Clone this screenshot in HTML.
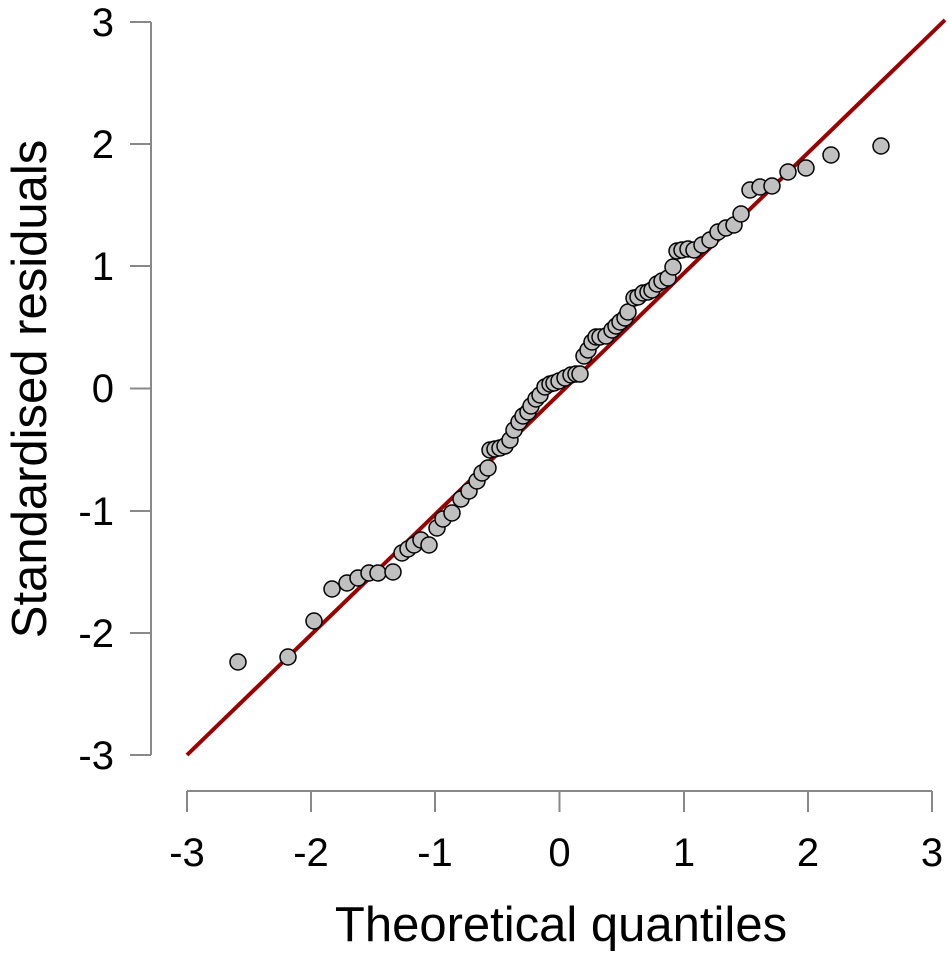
<!DOCTYPE html>
<html><head><style>body{margin:0;background:#fff}svg{display:block}</style></head><body>
<svg width="949" height="955" xmlns="http://www.w3.org/2000/svg" font-family="Liberation Sans, sans-serif">
<g stroke="#888" stroke-width="2" fill="none">
<path d="M151 22V755M130 22H151M130 144H151M130 266H151M130 388.5H151M130 511H151M130 633H151M130 755H151"/>
<path d="M187 791H932M187 791V812M311 791V812M435 791V812M559.5 791V812M684 791V812M808 791V812M932 791V812"/>
</g>
<g font-size="40" fill="#000" text-anchor="end">
<text x="114" y="36">3</text><text x="114" y="158">2</text><text x="114" y="280">1</text><text x="114" y="402">0</text><text x="114" y="525">-1</text><text x="114" y="647">-2</text><text x="114" y="769">-3</text>
</g>
<g font-size="40" fill="#000" text-anchor="middle">
<text x="187" y="866">-3</text><text x="311" y="866">-2</text><text x="435" y="866">-1</text><text x="559.5" y="866">0</text><text x="684" y="866">1</text><text x="808" y="866">2</text><text x="932" y="866">3</text>
<text x="561" y="941" font-size="49">Theoretical quantiles</text>
<text transform="translate(46,389) rotate(-90)" font-size="49">Standardised residuals</text>
</g>
<line x1="187" y1="755" x2="945" y2="20" stroke="#9b0000" stroke-width="4"/>
<g fill="#c0c0c0" stroke="#000" stroke-width="1.5">
<circle cx="238" cy="662" r="8"/><circle cx="288" cy="657" r="8"/><circle cx="314" cy="621" r="8"/><circle cx="332" cy="589" r="8"/><circle cx="347" cy="583" r="8"/><circle cx="358" cy="578" r="8"/><circle cx="369" cy="573" r="8"/><circle cx="378" cy="573" r="8"/><circle cx="393" cy="572" r="8"/><circle cx="402" cy="553" r="8"/><circle cx="408" cy="549" r="8"/><circle cx="414" cy="545" r="8"/><circle cx="421" cy="540" r="8"/><circle cx="429" cy="545" r="8"/><circle cx="437" cy="528" r="8"/><circle cx="443" cy="519" r="8"/><circle cx="452" cy="513" r="8"/><circle cx="461" cy="499" r="8"/><circle cx="469" cy="491" r="8"/><circle cx="477" cy="481" r="8"/><circle cx="482" cy="473" r="8"/><circle cx="488" cy="468" r="8"/><circle cx="490" cy="450" r="8"/><circle cx="495" cy="449" r="8"/><circle cx="500" cy="448" r="8"/><circle cx="505" cy="446" r="8"/><circle cx="510" cy="440" r="8"/><circle cx="514" cy="430" r="8"/><circle cx="519" cy="422" r="8"/><circle cx="523" cy="416" r="8"/><circle cx="528" cy="412" r="8"/><circle cx="531" cy="406" r="8"/><circle cx="536" cy="399" r="8"/><circle cx="540" cy="395" r="8"/><circle cx="545" cy="387" r="8"/><circle cx="550" cy="384" r="8"/><circle cx="554" cy="383" r="8"/><circle cx="559" cy="381" r="8"/><circle cx="565" cy="378" r="8"/><circle cx="571" cy="375" r="8"/><circle cx="576" cy="374" r="8"/><circle cx="580" cy="374" r="8"/><circle cx="584" cy="356" r="8"/><circle cx="588" cy="350" r="8"/><circle cx="592" cy="342" r="8"/><circle cx="596" cy="337" r="8"/><circle cx="600" cy="337" r="8"/><circle cx="606" cy="336" r="8"/><circle cx="612" cy="330" r="8"/><circle cx="616" cy="326" r="8"/><circle cx="620" cy="322" r="8"/><circle cx="625" cy="318" r="8"/><circle cx="628" cy="312" r="8"/><circle cx="634" cy="298" r="8"/><circle cx="638" cy="297" r="8"/><circle cx="643" cy="293" r="8"/><circle cx="648" cy="292" r="8"/><circle cx="652" cy="290" r="8"/><circle cx="657" cy="284" r="8"/><circle cx="662" cy="281" r="8"/><circle cx="668" cy="278" r="8"/><circle cx="673" cy="267" r="8"/><circle cx="677" cy="251" r="8"/><circle cx="682" cy="250" r="8"/><circle cx="688" cy="249" r="8"/><circle cx="694" cy="250" r="8"/><circle cx="702" cy="245" r="8"/><circle cx="710" cy="240" r="8"/><circle cx="718" cy="232" r="8"/><circle cx="726" cy="228" r="8"/><circle cx="734" cy="225" r="8"/><circle cx="741" cy="214" r="8"/><circle cx="750" cy="190" r="8"/><circle cx="760" cy="187" r="8"/><circle cx="772" cy="186" r="8"/><circle cx="788" cy="172" r="8"/><circle cx="806" cy="168" r="8"/><circle cx="831" cy="155" r="8"/><circle cx="881" cy="146" r="8"/>
</g>
</svg>
</body></html>
